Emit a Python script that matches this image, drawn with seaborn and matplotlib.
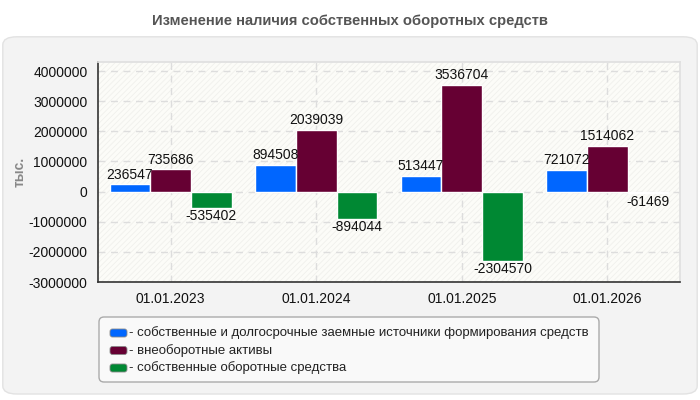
import matplotlib
matplotlib.use("Agg")
import matplotlib.pyplot as plt
import seaborn as sns
import pandas as pd
from matplotlib.patches import FancyBboxPatch, Rectangle

dates = ["01.01.2023", "01.01.2024", "01.01.2025", "01.01.2026"]
series_names = [
    "собственные и долгосрочные заемные источники формирования средств",
    "внеоборотные активы",
    "собственные оборотные средства",
]
s1 = [236547, 894508, 513447, 721072]
s2 = [735686, 2039039, 3536704, 1514062]
s3 = [-535402, -894044, -2304570, -61469]
colors = ["#0066ff", "#660033", "#008833"]
yticks = [4000000, 3000000, 2000000, 1000000, 0, -1000000, -2000000, -3000000]

rows = []
for name, vals in zip(series_names, [s1, s2, s3]):
    for d, v in zip(dates, vals):
        rows.append({"date": d, "series": name, "value": v})
df = pd.DataFrame(rows)

sns.set_theme(style="white")
plt.rcParams["font.family"] = ["Liberation Sans", "DejaVu Sans"]
plt.rcParams["hatch.linewidth"] = 0.6

fig = plt.figure(figsize=(7, 4), dpi=100)
fig.patch.set_facecolor("white")

# rounded panel background
panel = FancyBboxPatch((0.004, 0.015), 0.992, 0.893,
                       boxstyle="round,pad=0,rounding_size=0.02",
                       transform=fig.transFigure, facecolor="#f3f3f3",
                       edgecolor="#e2e2e2", linewidth=1, zorder=-5)
fig.patches.append(panel)

fig.text(0.5, 0.948, "Изменение наличия собственных оборотных средств",
         ha="center", va="center", fontsize=10.6, fontweight="bold", color="#555555")

ax = fig.add_axes([98 / 700, 1 - 282 / 400, 582 / 700, 220 / 400])
ax.set_facecolor("#fcfcf8")
ax.add_patch(Rectangle((0, 0), 1, 1, transform=ax.transAxes, facecolor="none",
                       edgecolor="#f0f0ec", hatch="//////", linewidth=0, zorder=0))

sns.barplot(data=df, x="date", y="value", hue="series", hue_order=series_names,
            palette=colors, width=0.84, gap=0.0, ax=ax, legend=False,
            edgecolor="white", linewidth=1, saturation=1, zorder=3)

ax.set_xlim(-0.5, 3.5)
ax.set_ylim(-3000000, 4300000)
ax.set_yticks(yticks)
ax.set_yticklabels([str(t) for t in yticks], fontsize=10, color="#111111")
ax.tick_params(axis="x", labelsize=10, colors="#111111", length=4, width=1, direction="out")
ax.tick_params(axis="y", length=4, width=1, direction="out", colors="#111111")
for lbl in ax.get_xticklabels():
    lbl.set_color("#111111")
ax.set_xlabel("")
ax.set_ylabel("тыс.", fontsize=10, fontweight="bold", color="#888888")
ax.yaxis.set_label_coords(-(98 - 27) / 582, 0.5)

ax.grid(True, axis="both", linestyle=(0, (5, 4)), color="#dddddd", linewidth=1, zorder=1)
ax.set_axisbelow(True)
for side in ["top", "right"]:
    ax.spines[side].set_color("#e0e0e0")
for side in ["left", "bottom"]:
    ax.spines[side].set_color("#333333")
    ax.spines[side].set_linewidth(1.2)

for cont in ax.containers:
    for bar in cont:
        v = bar.get_height()
        x = bar.get_x() + bar.get_width() / 2
        if v >= 0:
            ax.annotate(f"{int(round(v))}", (x, v), xytext=(0, 2), textcoords="offset points",
                        ha="center", va="bottom", fontsize=10, color="#111111", zorder=5)
        else:
            ax.annotate(f"{int(round(v))}", (x, v), xytext=(0, -1), textcoords="offset points",
                        ha="center", va="top", fontsize=10, color="#111111", zorder=5)

# legend box
leg_ax = fig.add_axes([98 / 700, 1 - 383 / 400, 502 / 700, 67 / 400])
leg_ax.set_axis_off()
leg_ax.set_xlim(0, 502)
leg_ax.set_ylim(67, 0)
leg_ax.add_patch(FancyBboxPatch((1, 1), 500, 65, boxstyle="round,pad=0,rounding_size=5",
                                facecolor="#f9f9f9", edgecolor="#aaaaaa", linewidth=1))
for i, (name, c) in enumerate(zip(series_names, colors)):
    y = 17 + i * 17.5
    leg_ax.add_patch(FancyBboxPatch((12, y - 4), 17, 8, boxstyle="round,pad=0,rounding_size=2.5",
                                    facecolor=c, edgecolor="#888888", linewidth=0.6))
    leg_ax.text(31, y, "- " + name, va="center", ha="left", fontsize=9.5, color="#222222")

fig.savefig("out.png", dpi=100)
